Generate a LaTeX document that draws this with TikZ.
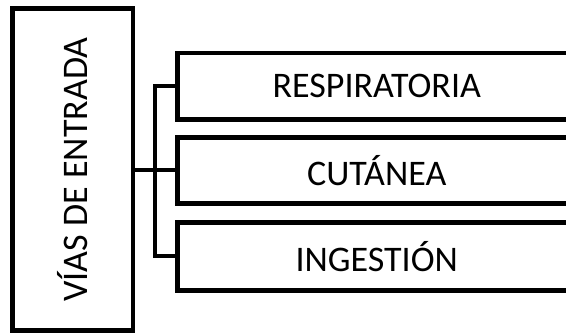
\documentclass[tikz,border=0pt]{standalone}
\usepackage{fontspec}
\setmainfont{Carlito}
\begin{document}
\begin{tikzpicture}[x=1pt,y=1pt,
  box/.style={draw=black, line width=4.5pt, inner sep=0pt, font=\fontsize{36}{36}\selectfont},
  link/.style={draw=black, line width=4pt}]
\useasboundingbox (0,0) rectangle (566,334);
\clip (0,0) rectangle (566,334);
\node[box, minimum width=120.5pt, minimum height=322pt] (L) at (72.75,164.5) {};
\node[rotate=90, font=\fontsize{36}{36}\selectfont, inner sep=0pt] (LT) at (L.center) {VÍAS DE ENTRADA};
\node[box, minimum width=398.5pt, minimum height=66.5pt] (B1) at (376.75,247.75) {RESPIRATORIA};
\node[box, minimum width=398.5pt, minimum height=66pt] (B2) at (376.75,163.5) {CUTÁNEA};
\node[box, minimum width=398.5pt, minimum height=68pt] (B3) at (376.75,77.5) {INGESTIÓN};
\coordinate (J) at (155,163.5);
\draw[link] (L.east |- B2.west) -- (B2.west);
\draw[link] (B1.west) -| (J) |- (B3.west);
\end{tikzpicture}
\end{document}
